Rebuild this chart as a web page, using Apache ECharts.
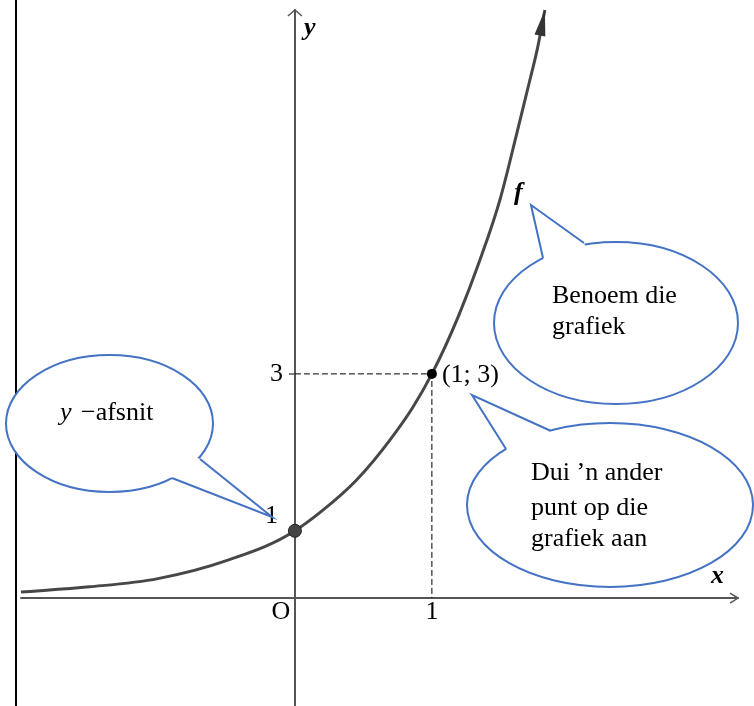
<!DOCTYPE html>
<html>
<head>
<meta charset="utf-8">
<title>f(x)</title>
<script src="https://cdn.jsdelivr.net/npm/echarts@6/dist/echarts.min.js"></script>
<style>
    html, body { margin: 0; padding: 0; background: #fff; }
    #chart { width: 754px; height: 706px; }
</style>
</head>
<body>
<div id="chart"></div>
<script>
// data
var curveX = [-2.0, -1.5, -1.0, -0.5, 0, 0.2, 0.45, 0.7, 0.86, 1.0, 1.2, 1.35, 1.5, 1.62, 1.715, 1.77, 1.825];
var curveY = [0.08, 0.15, 0.26, 0.50, 0.90, 1.17, 1.58, 2.13, 2.55, 3.0, 3.8, 4.52, 5.35, 6.22, 6.93, 7.35, 7.87];
var pointX = [0, 1];
var pointY = [0.9, 3];
var pointLabels = ['1', '(1; 3)'];
var xTickValues = [0, 1];
var xTickLabels = ['O', '1'];
var yTickValues = [3];
var yTickLabels = ['3'];

var xMin = -2, xMax = 3.235;
var yMin = -1.445, yMax = 7.87;

var serif = "'Liberation Serif', 'Times New Roman', serif";
var axisColor = '#555';
var blue = '#4472c4';

var chart = echarts.init(document.getElementById('chart'));

var curveData = curveX.map(function (x, i) { return [x, curveY[i]]; });
var guideData = [[0, pointY[1]], [pointX[1], pointY[1]], [pointX[1], 0]];

// slope at each pixel point (non-uniform central differences)
function slopes(p) {
    var n = p.length, m = [];
    for (var i = 0; i < n; i++) {
        if (i === 0) { m.push((p[1][1] - p[0][1]) / (p[1][0] - p[0][0])); continue; }
        if (i === n - 1) { m.push((p[i][1] - p[i - 1][1]) / (p[i][0] - p[i - 1][0])); continue; }
        var h0 = p[i][0] - p[i - 1][0], h1 = p[i + 1][0] - p[i][0];
        var s0 = (p[i][1] - p[i - 1][1]) / h0, s1 = (p[i + 1][1] - p[i][1]) / h1;
        m.push((s1 * h0 + s0 * h1) / (h0 + h1));
    }
    return m;
}

// smooth curve through the read points (Hermite -> bezier), in pixels from the axes
function renderCurve(params, api) {
    var p = curveData.map(function (d) { return api.coord(d); });
    var m = slopes(p);
    var d = 'M' + p[0][0] + ' ' + p[0][1];
    for (var i = 0; i < p.length - 1; i++) {
        var h = (p[i + 1][0] - p[i][0]) / 3;
        d += ' C' + (p[i][0] + h) + ' ' + (p[i][1] + m[i] * h) +
             ' ' + (p[i + 1][0] - h) + ' ' + (p[i + 1][1] - m[i + 1] * h) +
             ' ' + p[i + 1][0] + ' ' + p[i + 1][1];
    }
    return {
        type: 'path',
        shape: { pathData: d },
        style: { fill: 'none', stroke: '#474747', lineWidth: 3 }
    };
}

var option = {
    animation: false,
    grid: { left: 21, right: 16, top: 10, bottom: 0, outerBoundsMode: 'none', containLabel: false },
    xAxis: {
        type: 'value', min: xMin, max: xMax,
        splitLine: { show: false },
        axisTick: { show: false },
        axisLabel: { show: false },
        axisLine: { onZero: true, lineStyle: { color: axisColor, width: 2 } }
    },
    yAxis: {
        type: 'value', min: yMin, max: yMax,
        splitLine: { show: false },
        axisLabel: { show: false },
        axisLine: { onZero: true, lineStyle: { color: axisColor, width: 2 } },
        axisTick: { show: true, customValues: yTickValues, length: 6, lineStyle: { color: axisColor, width: 1.5 } }
    },
    series: [
        {
            name: 'f',
            type: 'custom',
            data: [curveData[0]],
            renderItem: renderCurve,
            clip: false,
            z: 2
        },
        {
            name: 'guides',
            type: 'line',
            data: guideData,
            showSymbol: false,
            lineStyle: { color: '#000', width: 1, type: [6, 3] },
            z: 1
        },
        {
            name: 'points',
            type: 'scatter',
            z: 4,
            itemStyle: { opacity: 1 },
            data: [
                {
                    value: [pointX[0], pointY[0]], symbolSize: 13,
                    itemStyle: { color: '#444', borderColor: '#222', borderWidth: 1, opacity: 1 },
                    label: {
                        show: true, formatter: pointLabels[0], position: 'left', distance: 12, offset: [2, -15],
                        color: '#000', fontSize: 26, fontFamily: serif, textBorderWidth: 0
                    }
                },
                {
                    value: [pointX[1], pointY[1]], symbolSize: 10,
                    itemStyle: { color: '#000', opacity: 1 },
                    label: {
                        show: true, formatter: pointLabels[1], position: 'right', distance: 5, offset: [0, 1],
                        color: '#000', fontSize: 26, fontFamily: serif, textBorderWidth: 0
                    }
                }
            ]
        }
    ]
};

chart.setOption(option);

// decorations: tick labels, arrows, callouts, letters
function px(p) { return chart.convertToPixel({ gridIndex: 0 }, p); }

function txt(s, x, baseline, font, align) {
    return {
        type: 'text', x: x, y: baseline - 9, z: 60,
        style: {
            text: s, font: (font || '') + ' 26px ' + serif, fill: '#000',
            textAlign: align || 'left', textVerticalAlign: 'middle'
        }
    };
}

var g = [];

// left border
g.push({ type: 'line', z: 0, shape: { x1: 16, y1: 0, x2: 16, y2: 706 }, style: { stroke: '#000', lineWidth: 2 } });

// tick labels
xTickValues.forEach(function (v, i) {
    var p = px([v, 0]);
    var shift = v === 0 ? -14 : 0; // origin letter sits left of the y-axis
    g.push(txt(xTickLabels[i], p[0] + shift, p[1] + 23, '', 'center'));
});
yTickValues.forEach(function (v, i) {
    var p = px([0, v]);
    g.push(txt(yTickLabels[i], p[0] - 12, p[1] + 9, '', 'right'));
});

// axis arrows
var xt = px([xMax, 0]);
g.push({ type: 'polyline', z: 5, shape: { points: [[xt[0] - 8, xt[1] - 5], xt, [xt[0] - 8, xt[1] + 5]] },
    style: { stroke: axisColor, lineWidth: 1.5, fill: null } });
var yt = px([0, yMax]);
g.push({ type: 'polyline', z: 5, shape: { points: [[yt[0] - 7, yt[1] + 6], yt, [yt[0] + 7, yt[1] + 6]] },
    style: { stroke: axisColor, lineWidth: 1.5, fill: null } });

// arrowhead at the end of the curve, along the end tangent
var cp = curveData.map(px);
var mEnd = slopes(cp)[cp.length - 1];
var e = cp[cp.length - 1];
var len = Math.sqrt(1 + mEnd * mEnd);
var ux = 1 / len, uy = mEnd / len;
var bx = e[0] - ux * 26, by = e[1] - uy * 26;
g.push({ type: 'polygon', z: 5, shape: { points: [e, [bx - uy * 5.5, by + ux * 5.5], [bx + uy * 5.5, by - ux * 5.5]] },
    style: { fill: '#333' } });

// speech bubbles
var callouts = [
    { cx: 109.5, cy: 423.5, rx: 103.5, ry: 68.5, tail: [[200, 459], [272, 517], [172, 478]] },
    { cx: 616, cy: 323, rx: 122, ry: 81, tail: [[543, 258], [531, 205], [584, 243]] },
    { cx: 610, cy: 505, rx: 143, ry: 82, tail: [[506, 449], [472, 395], [551, 431]] }
];
callouts.forEach(function (c) {
    g.push({ type: 'ellipse', z: 50, shape: { cx: c.cx, cy: c.cy, rx: c.rx, ry: c.ry },
        style: { fill: '#fff', stroke: blue, lineWidth: 2 } });
    g.push({ type: 'polygon', z: 51, shape: { points: c.tail.concat([[c.cx, c.cy]]) },
        style: { fill: '#fff' } });
    g.push({ type: 'polyline', z: 52, shape: { points: c.tail },
        style: { stroke: blue, lineWidth: 2, fill: null, lineJoin: 'miter' } });
});

g.push(txt('y', 60, 422, 'italic'));
g.push(txt('\u2212afsnit', 81, 422));
g.push(txt('Benoem die', 552, 305));
g.push(txt('grafiek', 552, 336));
g.push(txt('Dui \u2019n ander', 531, 482));
g.push(txt('punt op die', 531, 517));
g.push(txt('grafiek aan', 531, 548));

// axis letters and function name
g.push(txt('x', 711, 585, 'italic bold'));
g.push(txt('y', 304, 37, 'italic bold'));
g.push(txt('f', 514, 202, 'italic bold'));

chart.setOption({ graphic: g });
</script>
</body>
</html>
